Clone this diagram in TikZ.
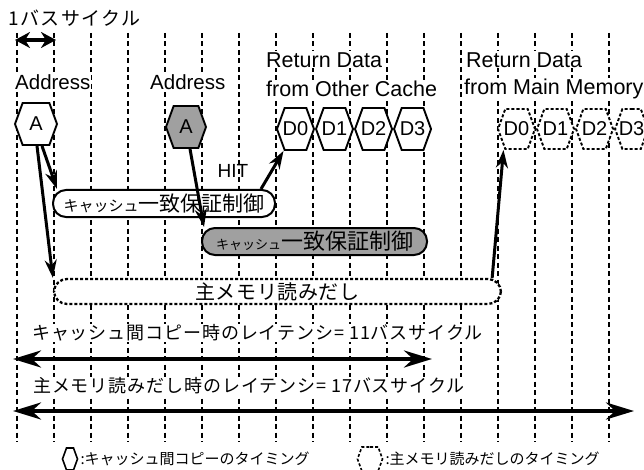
\documentclass[tikz,border=0pt]{standalone}
\usepackage{fontspec}
\setmainfont{Liberation Sans}
\newfontfamily\jpfont{Noto Sans CJK JP}
\usepackage{tikz}
\usetikzlibrary{shapes.symbols,arrows.meta,positioning}
\definecolor{dotgray}{RGB}{160,160,160}
\newcommand{\fs}[1]{\fontsize{#1}{#1}\selectfont}
\newcommand{\bus}[1]{\makebox[0pt]{#1}}

\begin{document}
\begin{tikzpicture}[x=1pt, y=-1pt,
    gridline/.style={line width=2.3pt, dash pattern=on 5pt off 3.5pt},
    hexbus/.style={shape=signal, signal to=east and west, signal pointer angle=140, draw, line width=1.9pt, fill=white, minimum height=42pt, minimum width=37pt, inner sep=0pt, font=\fs{20}},
    memhex/.style={hexbus, dash pattern=on 3pt off 2pt, minimum height=40pt},
    grayhex/.style={hexbus, fill=dotgray},
    ctrlbox/.style={rectangle, rounded corners=13pt, draw, line width=2pt, fill=white, minimum height=27pt, inner sep=0pt},
    txt/.style={fill=white, inner sep=1pt, anchor=west},
    jptxt/.style={txt, font=\jpfont\fs{18}\addfontfeature{LetterSpace=5}},
    arrow/.style={-{Stealth[length=18pt,width=12pt]}, line width=3pt},
    span/.style={{Stealth[length=28pt,width=17pt]}-{Stealth[length=28pt,width=17pt]}, line width=4pt}
]
\useasboundingbox (0,0) rectangle (644,470);

% bus cycle grid
\foreach \i in {0,...,16}
    \draw[gridline] ({17+37*\i},33) -- ({17+37*\i},442);

\node[txt, font=\jpfont\fs{19}\addfontfeature{LetterSpace=8}] (cycle) at (7,18) {1バスサイクル};
\coordinate (cyc0) at (15,40);
\coordinate (cyc1) at (56,40);
\draw[{Stealth[length=15pt,width=16pt]}-{Stealth[length=15pt,width=16pt]}, line width=3.5pt] (cyc0) -- (cyc1);

% labels
\node[txt, font=\fs{20.5}] (addr1) at (14,82) {Address};
\node[txt, font=\fs{20.5}] (addr2) at (149,82) {Address};
\node[txt, font=\fs{21.5}] (ret1) at (265,60) {Return Data};
\node[txt, font=\fs{21.5}] (from1) at (265,89) {from Other Cache};
\node[txt, font=\fs{21.5}] (ret2) at (465,60) {Return Data};
\node[txt, font=\fs{21.5}] (from2) at (463,89) {from Main Memory};

% address and data phases
\node[hexbus, minimum width=42pt] (hexa) at (36,124) {\bus{A}};
\node[grayhex, minimum width=40pt] (hexg) at (186,127) {\bus{A}};
\node[hexbus] (d0) at (295.5,129) {\bus{D0}};
\node[hexbus, right=0pt of d0] (d1) {\bus{D1}};
\node[hexbus, right=0pt of d1] (d2) {\bus{D2}};
\node[hexbus, right=0pt of d2] (d3) {\bus{D3}};
\node[memhex] (m0) at (516.5,129) {\bus{D0}};
\node[memhex, right=0pt of m0] (m1) {\bus{D1}};
\node[memhex, right=0pt of m1] (m2) {\bus{D2}};
\node[memhex, right=0pt of m2, minimum width=33pt] (m3) {\bus{D3}};

% coherency control and memory read
\node[ctrlbox, minimum width=222pt] (ctrl) at (164,203.5) {{\jpfont\fs{15}キャッシュ}{\jpfont\fs{21}一致保証制御}};
\node[ctrlbox, minimum width=225pt, fill=dotgray] (gctrl) at (314.5,241.5) {{\jpfont\fs{13}キャッシュ}{\jpfont\fs{22}一致保証制御}};
\node[ctrlbox, minimum width=447pt, minimum height=25pt, dash pattern=on 3pt off 2pt, line width=2.3pt] (mem) at (277.5,291.5) {\jpfont\fs{20}\addfontfeature{LetterSpace=3}主メモリ読みだし};
\node[font=\fs{19}] (hit) at (233,171) {HIT};

\draw[arrow] ([xshift=6pt]hexa.south) -- ([xshift=5pt]ctrl.north west);
\draw[arrow] ([xshift=1pt]hexa.south) -- (mem.north west);
\draw[arrow] ([xshift=4pt]hexg.south) -- ([xshift=3pt]gctrl.north west);
\draw[arrow] ([xshift=-15pt]ctrl.north east) -- ([xshift=-12pt]d0.south);
\draw[arrow] ([xshift=-10pt]mem.north east) -- ([xshift=-13pt]m0.south);

% latencies
\node[jptxt] (lat1) at (31,333) {キャッシュ間コピー時のレイテンシ= 11バスサイクル};
\coordinate (lat1a) at (13,359);
\coordinate (lat1b) at (432,359);
\draw[span] (lat1a) -- (lat1b);
\node[jptxt] (lat2) at (32,386) {主メモリ読みだし時のレイテンシ= 17バスサイクル};
\coordinate (lat2a) at (13,411);
\coordinate (lat2b) at (634,411);
\draw[span] (lat2a) -- (lat2b);

% legend
\node[hexbus, minimum width=15pt, minimum height=22pt, line width=1.6pt] (key1) at (70,459) {};
\node[txt, font=\jpfont\fs{15}, right=1pt of key1] (key1txt) {:キャッシュ間コピーのタイミング};
\node[memhex, minimum width=25pt, minimum height=24pt, line width=1.6pt] (key2) at (370,459) {};
\node[txt, font=\jpfont\fs{15}, right=1pt of key2] (key2txt) {:主メモリ読みだしのタイミング};

\end{tikzpicture}
\end{document}
